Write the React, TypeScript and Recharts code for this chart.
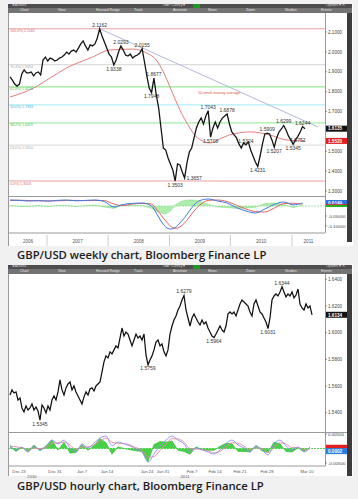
import React from "react";
import { ComposedChart, Line, Area, XAxis, YAxis, ReferenceLine, ReferenceDot } from "recharts";

// ---- weekly GBP/USD, one close every two weeks, mid 2006 -> Mar 2011
const weeklyClose = [
  1.874, 1.858, 1.838, 1.828, 1.838, 1.889, 1.909, 1.894, 1.894, 1.899,
  1.879, 1.894, 1.899, 1.884, 1.959, 1.974, 1.954, 1.969, 1.964, 1.954,
  1.959, 1.969, 1.974, 1.984, 1.999, 1.989, 2.004, 2.009, 1.999, 2.019,
  2.04, 2.055, 2.03, 2.009, 2.035, 2.03, 2.04, 2.07, 2.1162, 2.08,
  2.05, 2.02, 1.989, 1.974, 1.9338, 1.959, 1.999, 2.0293, 2.009, 1.984,
  1.979, 1.989, 1.969, 1.979, 1.984, 1.994, 2.0155, 1.949, 1.879, 1.818,
  1.7948, 1.8677, 1.783, 1.718, 1.617, 1.516, 1.506, 1.466, 1.436, 1.406,
  1.3503, 1.436, 1.431, 1.396, 1.3657, 1.441, 1.496, 1.516, 1.567, 1.617,
  1.647, 1.667, 1.637, 1.677, 1.7043, 1.5708, 1.617, 1.647, 1.617, 1.647,
  1.667, 1.677, 1.6878, 1.637, 1.597, 1.582, 1.567, 1.537, 1.516, 1.542,
  1.5324, 1.547, 1.506, 1.476, 1.446, 1.4231, 1.476, 1.537, 1.587, 1.5909,
  1.587, 1.557, 1.5207, 1.567, 1.597, 1.612, 1.6299, 1.607, 1.577, 1.557,
  1.5345, 1.557, 1.5752, 1.597, 1.6244, 1.6135,
];
const weeklyPeaks = [38, 47, 56, 61, 84, 92, 100, 109, 116, 124];
const weeklyTroughs = [44, 60, 70, 74, 85, 105, 112, 120, 122];
const troughsLabelRight = [74];

// 50 week moving average
const maIdx = [0, 10, 17, 24, 35, 42, 52, 58, 62, 65, 68, 72, 76, 79, 85, 89, 93, 102, 110, 117, 125];
const maVals = [1.773, 1.818, 1.869, 1.919, 1.974, 2.009, 2.014, 1.994, 1.959, 1.899, 1.818, 1.708, 1.622, 1.572, 1.542, 1.562, 1.582, 1.597, 1.582, 1.557, 1.552];

// fibonacci retracement 1.3503 -> 2.1162
const fibPct = [100, 76.4, 61.8, 50, 38.2, 23.6, 0];
const fibLevels = [2.1162, 1.9354, 1.8236, 1.7333, 1.6429, 1.531, 1.3503];
const fibColors = ["#e89696", "#cfcfcf", "#96ea96", "#96e4f2", "#a6eca6", "#d2d2d2", "#e89696"];
const fibText = ["#d46a6a", "#a8a8a8", "#4cbf4c", "#3fb5d3", "#4cbf4c", "#a8a8a8", "#d46a6a"];

// trend line from the 2007 top
const trendIdx = [38, 130.5];
const trendVals = [2.1162, 1.622];

// weekly MACD
const wkMacdIdx = [0, 4, 8, 12, 16, 20, 24, 28, 32, 36, 40, 44, 48, 52, 56, 60, 62, 64, 66, 68, 70, 72, 74, 76, 78, 80, 84, 88, 92, 96, 100, 104, 108, 112, 116, 120, 124];
const wkMacd = [0.03, 0.028, 0.025, 0.027, 0.024, 0.028, 0.03, 0.026, 0.028, 0.03, 0.022, -0.005, 0.008, 0.013, 0.015, 0.0, -0.035, -0.075, -0.105, -0.115, -0.108, -0.085, -0.058, -0.025, 0.005, 0.025, 0.035, 0.025, 0.015, -0.008, -0.025, -0.035, -0.015, 0.008, 0.02, 0.006, 0.0149];
const wkSignal = [0.028, 0.029, 0.027, 0.026, 0.026, 0.026, 0.028, 0.028, 0.027, 0.028, 0.027, 0.01, 0.002, 0.01, 0.013, 0.01, -0.015, -0.045, -0.075, -0.1, -0.112, -0.105, -0.085, -0.055, -0.025, 0.0, 0.028, 0.03, 0.022, 0.004, -0.015, -0.028, -0.03, -0.01, 0.012, 0.014, 0.01];
const wkHist = [0.003, -0.002, -0.003, 0.002, -0.003, 0.003, 0.002, -0.003, 0.002, 0.004, -0.005, -0.012, 0.006, 0.004, 0.003, -0.012, -0.025, -0.035, -0.04, -0.025, 0.005, 0.02, 0.028, 0.03, 0.03, 0.025, 0.008, -0.005, -0.008, -0.012, -0.01, -0.006, 0.012, 0.015, 0.008, -0.008, 0.005];

const yearNames = ["2006", "2007", "2008", "2009", "2010", "2011"];
const yearStarts = [15.7, 41.6, 67.6, 93.4, 119.5]; // 2007 .. 2011

// ---- hourly GBP/USD, Dec 2010 -> Mar 10 2011
const hourlyClose = [
  1.5533, 1.5571, 1.5548, 1.5556, 1.5496, 1.5511, 1.5436, 1.5406, 1.5451, 1.5421,
  1.5436, 1.5466, 1.5421, 1.5444, 1.5414, 1.5345, 1.5459, 1.5436, 1.5399, 1.5451,
  1.5421, 1.5496, 1.5526, 1.5496, 1.5556, 1.5646, 1.5571, 1.5533, 1.5586, 1.5616,
  1.5631, 1.5571, 1.5601, 1.5556, 1.5526, 1.5496, 1.5466, 1.5519, 1.5556, 1.5533,
  1.5578, 1.5586, 1.5563, 1.5601, 1.5616, 1.5631, 1.5706, 1.5781, 1.5826, 1.5811,
  1.5856, 1.5841, 1.5871, 1.5901, 1.5886, 1.596, 1.6035, 1.5975, 1.6005, 1.599,
  1.5945, 1.5901, 1.5945, 1.599, 1.596, 1.5975, 1.5945, 1.599, 1.5833, 1.5759,
  1.5796, 1.5826, 1.5871, 1.593, 1.5945, 1.5901, 1.5915, 1.5856, 1.5826, 1.5871,
  1.599, 1.605, 1.6095, 1.6125, 1.617, 1.62, 1.6245, 1.6279, 1.617, 1.611,
  1.605, 1.611, 1.614, 1.611, 1.608, 1.6058, 1.6095, 1.6065, 1.608, 1.6035,
  1.6005, 1.5975, 1.5964, 1.599, 1.602, 1.605, 1.602, 1.6005, 1.605, 1.614,
  1.6155, 1.614, 1.6155, 1.6125, 1.617, 1.6215, 1.6245, 1.623, 1.6215, 1.62,
  1.6155, 1.6125, 1.6215, 1.6245, 1.62, 1.6155, 1.614, 1.611, 1.608, 1.6031,
  1.611, 1.6245, 1.6275, 1.629, 1.6275, 1.6305, 1.6344, 1.6305, 1.6268, 1.629,
  1.6275, 1.6305, 1.626, 1.6282, 1.6327, 1.6215, 1.6185, 1.617, 1.6215, 1.6185,
  1.62, 1.6134,
];
const hourlyPeaks = [87, 136];
const hourlyTroughs = [15, 69, 102, 129];

// hourly MACD (in 1/1000), one value every third bar
const hrMacd = [1.2, -0.5, 0.5, -1.2, 0.9, -0.5, 0.9, 2.9, 1.6, 2.9, 0.2, -1.2, 1.6, 0.2, 1.9, 3.6, 4.3, 0.9, 2.2, 1.6, 0.9, -0.2, -1.2, -4.7, -1.9, 0.9, 2.9, 4.3, 2.9, 1.6, -1.2, 0.2, -0.5, -1.2, -1.9, -0.5, 1.6, 2.9, 1.2, 0.2, -1.2, 0.9, -0.5, -2.2, 1.6, 2.9, 0.9, -0.5, 0.5, -1.2, 0.2];
const hrSignal = [0.8, 0.6, 0.2, -0.5, 0.1, 0.0, 0.3, 1.8, 2.0, 2.2, 1.2, -0.3, 0.5, 0.6, 1.2, 2.6, 3.6, 2.2, 1.8, 1.7, 1.2, 0.3, -0.6, -3.0, -2.8, -0.6, 1.6, 3.4, 3.3, 2.2, 0.0, -0.2, -0.3, -0.8, -1.5, -1.0, 0.5, 2.0, 1.8, 0.8, -0.5, 0.2, 0.1, -1.4, 0.2, 2.0, 1.6, 0.3, 0.4, -0.5, -0.1];
const hrHist = [0.6, -1.0, 0.4, -1.2, 1.2, -0.8, 0.8, 3.0, -0.6, 2.2, -1.6, -1.4, 1.4, -0.6, 1.0, 3.4, 2.0, -2.0, 0.6, 0.0, -0.4, -0.8, -1.0, -4.6, 1.4, 2.4, 2.2, 2.6, -0.6, -1.0, -2.0, 0.6, -0.4, -0.6, -0.6, 0.8, 1.8, 1.6, -1.0, -1.0, -1.2, 1.0, -0.8, -1.4, 2.2, 1.6, -1.0, -1.2, 0.2, -1.0, 0.4];

const dateNames = ["Dec 23", "Dec 31", "Jan 7", "Jan 14", "Jan 24", "Jan 31", "Feb 7", "Feb 14", "Feb 21", "Feb 28", "Mar 10"];
const dateIdx = [4.5, 22.5, 36, 48.5, 68.5, 76.5, 91, 102.5, 115, 128.5, 148.5];
const hrYearNames = ["2010", "2011"];
const hrYearIdx = [11, 87.5];

const W_DOM: [number, number] = [-0.42, 133.5];
const H_DOM: [number, number] = [-0.5, 157.5];
const CW = 338;
const AXW = 22;
const FONT = "'Liberation Sans', Arial, sans-serif";

const weeklyRows = weeklyClose.map((c, i) => {
  const k = maIdx.indexOf(i);
  return { x: i, close: c, ma: k >= 0 ? maVals[k] : null };
});
const wkMacdRows = wkMacdIdx.map((x, k) => ({ x, macd: wkMacd[k], sig: wkSignal[k], hist: wkHist[k] }));
const hourlyRows = hourlyClose.map((c, j) => ({ x: j, close: c }));
const hrMacdRows = hrMacd.map((m, k) => ({ x: k * 3, macd: m, sig: hrSignal[k], hist: hrHist[k] }));

const weeklyBounds = [W_DOM[0], ...yearStarts, W_DOM[1]];
const weeklyMids = yearNames.map((_, k) => +((weeklyBounds[k] + weeklyBounds[k + 1]) / 2).toFixed(2));

// coloured last-value boxes on the right axis
const tag = (text: string, bg: string, h = 6) => (props: any) => {
  const vb = props.viewBox || {};
  const x = vb.x + vb.width + 1;
  const y = vb.y;
  return (
    <g>
      <rect x={x} y={y - h / 2} width={AXW - 1} height={h} fill={bg} />
      {h >= 5 && (
        <text x={x + 2} y={y + 1.8} fontSize={4.6} fill="#fff" fontWeight="bold">
          {text}
        </text>
      )}
    </g>
  );
};

const priceLabel = (v: number, pos: "top" | "bottom" | "right") => ({
  value: v.toFixed(4),
  position: pos,
  fontSize: 5,
  fill: "#333",
  offset: 2,
});

function WeeklyTick(p: any) {
  const v = p.payload.value;
  if (yearStarts.includes(v)) {
    return <line x1={p.x} x2={p.x} y1={p.y} y2={p.y + 12} stroke="#aaa" strokeWidth={0.6} />;
  }
  return (
    <text x={p.x} y={p.y + 8} fontSize={4.6} fill="#555" textAnchor="middle">
      {yearNames[weeklyMids.indexOf(v)] || ""}
    </text>
  );
}

function HourlyTick(p: any) {
  const v = p.payload.value;
  const y = hrYearIdx.indexOf(v);
  if (y >= 0) {
    return (
      <text x={p.x} y={p.y + 9.5} fontSize={4.2} fill="#555" textAnchor="middle">
        {hrYearNames[y]}
      </text>
    );
  }
  const d = dateIdx.indexOf(v);
  return (
    <text x={p.x} y={p.y + 5} fontSize={4.2} fill="#555" textAnchor="middle">
      {dateNames[d]}
    </text>
  );
}

function TitleBars({ top }: { top: number }) {
  const row2 = ["Chart", "View", "Harvard Range", "Track", "Annotate", "News", "Zoom", "Studies", "Events"];
  const row2x = [12, 50, 88, 126, 165, 200, 238, 277, 313];
  return (
    <>
      <div style={{ position: "absolute", left: 8, top, width: 344, height: 4, background: "#4e4e4e" }}>
        <span style={{ position: "absolute", left: 4, top: -1, fontSize: 3.5, color: "#ddd" }}>◂ Actions</span>
        <span style={{ position: "absolute", left: 155, top: -1, fontSize: 3.5, color: "#ddd" }}>GBP Curncy ▾</span>
        <span style={{ position: "absolute", left: 185, top: 0, width: 7, height: 4, background: "#1f9a1f" }} />
        <span style={{ position: "absolute", left: 318, top: -1, fontSize: 3.5, color: "#ddd" }}>Options ▾ ✕</span>
      </div>
      <div style={{ position: "absolute", left: 8, top: top + 4, width: 344, height: 5, background: "#737373" }}>
        {row2.map((t, k) => (
          <span key={t} style={{ position: "absolute", left: row2x[k], top: 0, fontSize: 3.5, color: "#e6e6e6", whiteSpace: "nowrap" }}>
            {t}
          </span>
        ))}
      </div>
    </>
  );
}

function WeeklyPanel() {
  return (
    <>
      <div style={{ position: "absolute", left: 8, top: 4, width: 344, height: 242, background: "#fff", borderLeft: "1px solid #9a9a9a" }} />
      <TitleBars top={4} />
      <div style={{ position: "absolute", left: 347, top: 13, width: 5, height: 229, background: "#3c3c3c" }} />
      <div style={{ position: "absolute", left: 325, top: 13, width: 1, height: 220, background: "#9a9a9a" }} />
      <div style={{ position: "absolute", left: 9, top: 196, width: 316, height: 1, background: "#9a9a9a" }} />
      <div style={{ position: "absolute", left: 9, top: 13 }}>
        <ComposedChart width={CW} height={183} data={weeklyRows} margin={{ top: 0, right: 0, bottom: 0, left: 0 }}>
          <XAxis type="number" dataKey="x" domain={W_DOM} hide allowDataOverflow />
          <YAxis
            orientation="right"
            width={AXW}
            domain={[1.2748, 2.1956]}
            ticks={[1.3, 1.4, 1.5, 1.7, 1.8, 1.9, 2.0, 2.1]}
            interval={0}
            allowDataOverflow
            axisLine={false}
            tickSize={2}
            tickMargin={1}
            tickLine={{ stroke: "#666", strokeWidth: 0.6 }}
            tick={{ fontSize: 4.6, fill: "#444" }}
            tickFormatter={(v: number) => v.toFixed(4)}
          />
          {fibLevels.map((lv, k) => (
            <ReferenceLine
              key={lv}
              y={lv}
              stroke={fibColors[k]}
              strokeWidth={k === 2 || k === 4 ? 1.3 : 0.9}
              label={{ value: `${fibPct[k].toFixed(1)}%| ${lv.toFixed(4)}`, position: "insideTopLeft", fontSize: 3.6, fill: fibText[k], offset: 1 }}
            />
          ))}
          <ReferenceLine
            segment={[
              { x: trendIdx[0], y: trendVals[0] },
              { x: trendIdx[1], y: trendVals[1] },
            ]}
            stroke="#aab0d8"
            strokeWidth={0.9}
            ifOverflow="extendDomain"
          />
          <Line type="monotone" dataKey="ma" stroke="#e57c7c" strokeWidth={1} dot={false} connectNulls isAnimationActive={false} />
          <Line type="linear" dataKey="close" stroke="#151515" strokeWidth={1.3} dot={false} isAnimationActive={false} />
          <ReferenceDot x={79.7} y={1.793} r={0} fill="none" stroke="none" label={{ value: "50 week moving average", position: "right", fontSize: 3.8, fill: "#e05050", offset: 0 }} />
          {weeklyPeaks.map((i) => (
            <ReferenceDot key={"p" + i} x={i} y={weeklyClose[i]} r={0} fill="none" stroke="none" label={priceLabel(weeklyClose[i], "top")} />
          ))}
          {weeklyTroughs.map((i) => (
            <ReferenceDot
              key={"t" + i}
              x={i}
              y={weeklyClose[i]}
              r={0}
              fill="none"
              stroke="none"
              label={priceLabel(weeklyClose[i], troughsLabelRight.includes(i) ? "right" : "bottom")}
            />
          ))}
          <ReferenceLine y={maVals[maVals.length - 1]} stroke="none" label={tag(maVals[maVals.length - 1].toFixed(4), "#e02020")} />
          <ReferenceLine y={weeklyClose[weeklyClose.length - 1]} stroke="none" label={tag(weeklyClose[weeklyClose.length - 1].toFixed(4), "#111")} />
        </ComposedChart>
      </div>
      <div style={{ position: "absolute", left: 9, top: 196 }}>
        <ComposedChart width={CW} height={50} data={wkMacdRows} margin={{ top: 0, right: 0, bottom: 0, left: 0 }}>
          <XAxis
            type="number"
            dataKey="x"
            domain={W_DOM}
            allowDataOverflow
            ticks={[...weeklyMids, ...yearStarts]}
            interval={0}
            height={13}
            tickSize={0}
            tickLine={false}
            axisLine={{ stroke: "#9a9a9a" }}
            tick={(p: any) => <WeeklyTick {...p} />}
          />
          <YAxis
            orientation="right"
            width={AXW}
            domain={[-0.135, 0.05]}
            ticks={[-0.1, -0.05]}
            interval={0}
            allowDataOverflow
            axisLine={false}
            tickSize={2}
            tickMargin={1}
            tickLine={{ stroke: "#666", strokeWidth: 0.6 }}
            tick={{ fontSize: 4.4, fill: "#444" }}
            tickFormatter={(v: number) => v.toFixed(5)}
          />
          <Area type="linear" dataKey="hist" stroke="#7bd67b" strokeWidth={0.5} fill="#9be89b" fillOpacity={0.8} isAnimationActive={false} />
          <ReferenceLine y={0} stroke="#8fdc8f" strokeDasharray="2 1" strokeWidth={0.8} />
          <Line type="monotone" dataKey="sig" stroke="#e06464" strokeWidth={1} dot={false} isAnimationActive={false} />
          <Line type="monotone" dataKey="macd" stroke="#3f78e0" strokeWidth={1} dot={false} isAnimationActive={false} />
          <ReferenceLine y={0.0149} stroke="none" label={tag("0.0149", "#2a6fe0")} />
          <ReferenceLine y={0.004} stroke="none" label={tag("", "#e02020", 2)} />
          <ReferenceLine y={0.0} stroke="none" label={tag("", "#22b022", 2)} />
        </ComposedChart>
      </div>
    </>
  );
}

function HourlyPanel() {
  return (
    <>
      <div style={{ position: "absolute", left: 8, top: 265, width: 344, height: 211, background: "#fff", borderLeft: "1px solid #9a9a9a" }} />
      <TitleBars top={265} />
      <div style={{ position: "absolute", left: 347, top: 274, width: 5, height: 202, background: "#3c3c3c" }} />
      <div style={{ position: "absolute", left: 325, top: 274, width: 1, height: 192, background: "#9a9a9a" }} />
      <div style={{ position: "absolute", left: 9, top: 432, width: 338, height: 1, background: "#9a9a9a" }} />
      <div style={{ position: "absolute", left: 9, top: 273 }}>
        <ComposedChart width={CW} height={159} data={hourlyRows} margin={{ top: 0, right: 0, bottom: 0, left: 0 }}>
          <XAxis type="number" dataKey="x" domain={H_DOM} hide allowDataOverflow />
          <YAxis
            orientation="right"
            width={AXW}
            domain={[1.5256, 1.6447]}
            ticks={[1.54, 1.56, 1.58, 1.6, 1.62, 1.64]}
            interval={0}
            allowDataOverflow
            axisLine={false}
            tickSize={2}
            tickMargin={1}
            tickLine={{ stroke: "#666", strokeWidth: 0.6 }}
            tick={{ fontSize: 4.6, fill: "#444" }}
            tickFormatter={(v: number) => v.toFixed(4)}
          />
          <Line type="linear" dataKey="close" stroke="#111" strokeWidth={1.25} dot={false} isAnimationActive={false} />
          {hourlyPeaks.map((j) => (
            <ReferenceDot key={"p" + j} x={j} y={hourlyClose[j]} r={0} fill="none" stroke="none" label={priceLabel(hourlyClose[j], "top")} />
          ))}
          {hourlyTroughs.map((j) => (
            <ReferenceDot key={"t" + j} x={j} y={hourlyClose[j]} r={0} fill="none" stroke="none" label={priceLabel(hourlyClose[j], "bottom")} />
          ))}
          <ReferenceLine y={hourlyClose[hourlyClose.length - 1]} stroke="none" label={tag(hourlyClose[hourlyClose.length - 1].toFixed(4), "#111")} />
        </ComposedChart>
      </div>
      <div style={{ position: "absolute", left: 9, top: 432 }}>
        <ComposedChart width={CW} height={46} data={hrMacdRows} margin={{ top: 0, right: 0, bottom: 0, left: 0 }}>
          <XAxis
            type="number"
            dataKey="x"
            domain={H_DOM}
            allowDataOverflow
            ticks={[...dateIdx, ...hrYearIdx]}
            interval={0}
            height={12}
            tickSize={0}
            tickLine={false}
            axisLine={{ stroke: "#9a9a9a" }}
            tick={(p: any) => <HourlyTick {...p} />}
          />
          <YAxis
            orientation="right"
            width={AXW}
            domain={[-6.03, 5.69]}
            ticks={[-5, 5]}
            interval={0}
            allowDataOverflow
            axisLine={false}
            tickSize={2}
            tickMargin={1}
            tickLine={{ stroke: "#666", strokeWidth: 0.6 }}
            tick={{ fontSize: 4.4, fill: "#444" }}
            tickFormatter={(v: number) => (v / 1000).toFixed(5)}
          />
          <Area type="linear" dataKey="hist" stroke="#22bb22" strokeWidth={0.6} fill="#33cc33" fillOpacity={0.9} isAnimationActive={false} />
          <ReferenceLine y={0} stroke="#33cc33" strokeDasharray="2 1" strokeWidth={0.8} />
          <Line type="monotone" dataKey="sig" stroke="#e58a9c" strokeWidth={0.9} dot={false} isAnimationActive={false} />
          <Line type="monotone" dataKey="macd" stroke="#8a8ef0" strokeWidth={0.9} dot={false} isAnimationActive={false} />
          <ReferenceLine y={0.6} stroke="none" label={tag("0.0003", "#e02020", 4)} />
          <ReferenceLine y={-0.9} stroke="none" label={tag("0.0002", "#2a7fe0")} />
        </ComposedChart>
      </div>
    </>
  );
}

export default function App() {
  return (
    <div style={{ position: "absolute", left: 0, top: 0, width: 358, height: 499, background: "#f1f1f1", fontFamily: FONT, overflow: "hidden" }}>
      <WeeklyPanel />
      <div style={{ position: "absolute", left: 17, top: 247, fontFamily: "'Open Sans', sans-serif", fontWeight: 600, fontSize: 11.3, color: "#1b1b1b", whiteSpace: "nowrap" }}>
        GBP/USD weekly chart, Bloomberg Finance LP
      </div>
      <HourlyPanel />
      <div style={{ position: "absolute", left: 17, top: 478, fontFamily: "'Open Sans', sans-serif", fontWeight: 600, fontSize: 11.3, color: "#1b1b1b", whiteSpace: "nowrap" }}>
        GBP/USD hourly chart, Bloomberg Finance LP
      </div>
    </div>
  );
}
